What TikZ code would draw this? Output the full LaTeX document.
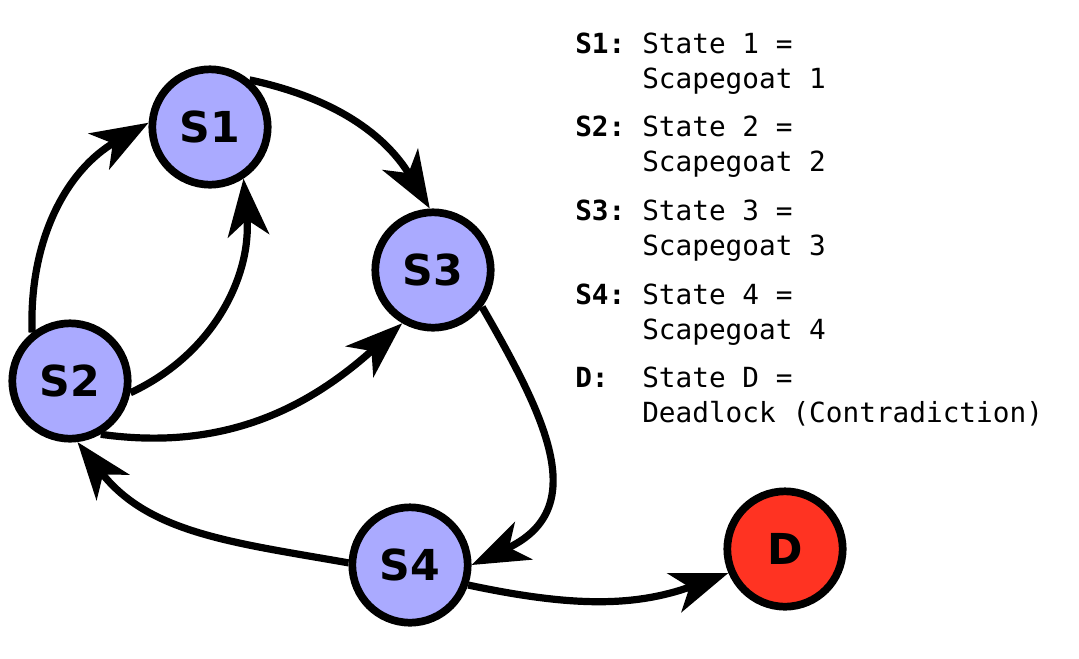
\documentclass[tikz,border=0pt]{standalone}
\usepackage{fontspec}
\setsansfont{DejaVu Sans}
\setmonofont{DejaVu Sans Mono}
\usetikzlibrary{arrows.meta}

\definecolor{statefill}{HTML}{AAAAFF}
\definecolor{deadfill}{HTML}{FF3322}

\begin{document}
\begin{tikzpicture}[x = 0.75pt, y = 0.75pt,
	state/.style = {circle, draw, line width = 5.8pt, minimum size = 86.5pt, inner sep = 0pt,
		fill = statefill, font = \fontsize{32}{32}\selectfont\sffamily\bfseries},
	trans/.style = {line width = 5.4pt, -{Stealth[length = 43pt, width = 31pt, inset = 12pt]}},
	key/.style = {anchor = base west, inner sep = 0pt, font = \fontsize{20.8}{24}\selectfont\ttfamily\bfseries},
	desc/.style = {anchor = base west, inner sep = 0pt, font = \fontsize{20.8}{24}\selectfont\ttfamily}]

	\useasboundingbox (0, 0) rectangle (1079, -658);

	% States

	\node [state] (S1) at (210, -127) {S1};
	\node [state] (S3) at (433, -270) {S3};
	\node [state] (S2) at (70, -381) {S2};
	\node [state] (S4) at (410, -565) {S4};
	\node [state, fill = deadfill] (D) at (785, -549) {D};

	% Transitions

	\draw [trans] (S1.50) to [out = -12, in = 121] (S3.93);
	\draw [trans] (S2.128) to [out = 92, in = 210] (S1.176);
	\draw [trans] (S2.-11) to [out = 25, in = -85] (S1.-57);
	\draw [trans] (S2.-60) to [out = -8, in = 222] (S3.-120);
	\draw [trans] (S3.-37) to [out = -60, in = 25, looseness = 1.3] (S4.0);
	\draw [trans] (S4.178) to [out = 170, in = -52] (S2.-83);
	\draw [trans] (S4.-19) to [out = -12, in = 200] (D.-157);

	% Legend

	\foreach \k/\a/\b [count = \i] in {S1/State 1 =/Scapegoat 1, S2/State 2 =/Scapegoat 2,
		S3/State 3 =/Scapegoat 3, S4/State 4 =/Scapegoat 4, D/State D =/Deadlock (Contradiction)}
	{
		\node [key] (k\i) at (575, {-53 - 83.7 * (\i - 1)}) {\k:};
		\node [desc] (a\i) at (642, {-53 - 83.7 * (\i - 1)}) {\a};
		\node [desc] (b\i) at (642, {-88 - 83.7 * (\i - 1)}) {\b};
	}

\end{tikzpicture}
\end{document}
